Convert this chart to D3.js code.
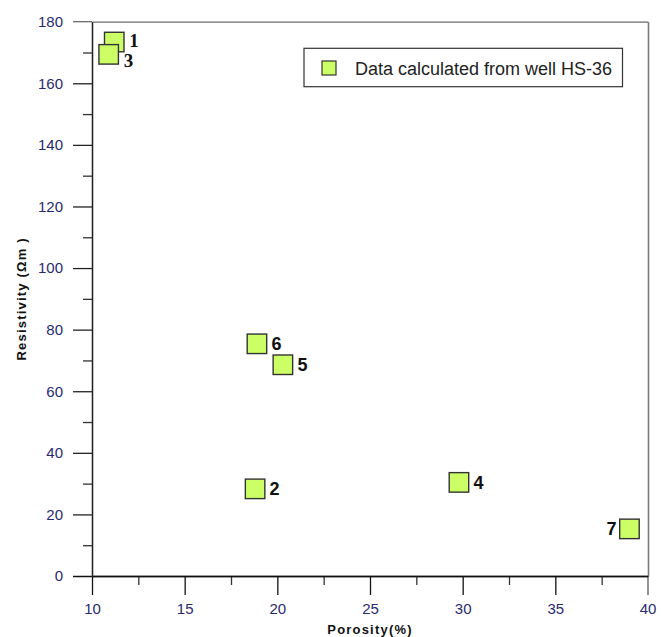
<!DOCTYPE html>
<html>
<head>
<meta charset="utf-8">
<script src="https://cdn.jsdelivr.net/npm/d3@7"></script>
<style>
  html, body { margin: 0; padding: 0; background: #fff; }
  svg { display: block; }
</style>
</head>
<body>
<svg id="chart" width="661" height="637"></svg>
<script>
// Samples computed from well HS-36
const sampleIds = [1, 2, 3, 4, 5, 6, 7];
const porosity = [11.2, 18.8, 10.9, 29.8, 20.3, 18.9, 39.0];      // %
const resistivity = [173.4, 28.3, 169.4, 30.4, 68.6, 75.4, 15.3];  // ohm-m

const xMajorTicks = [10, 15, 20, 25, 30, 35, 40];
const xMinorTicks = [12.5, 17.5, 22.5, 27.5, 32.5, 37.5];
const yMajorTicks = [0, 20, 40, 60, 80, 100, 120, 140, 160, 180];
const yMinorTicks = [10, 30, 50, 70, 90, 110, 130, 150, 170];

const legendLabel = "Data calculated from well HS-36";
const xTitle = "Porosity(%)";
const yTitle = "Resistivity (\u03A9m )";

const svg = d3.select("#chart");
const plotLeft = 92, plotRight = 648, plotTop = 21.7, plotBottom = 576;

const x = d3.scaleLinear().domain([10, 40]).range([plotLeft, plotRight]);
const y = d3.scaleLinear().domain([0, 180]).range([plotBottom, plotTop]);

const tickColor = "#2a2a6e";
const font = "Arial, 'Liberation Sans', sans-serif";

function styleAxis(g, lineColor) {
  g.select(".domain").attr("stroke", lineColor).attr("stroke-width", 1.3);
  g.selectAll(".tick line").attr("stroke", lineColor).attr("stroke-width", 1.3);
  g.selectAll(".tick text")
    .attr("fill", tickColor)
    .style("font-family", font)
    .style("font-size", "15px");
}

// frame: top and right sides in grey, carrying outward ticks
const topAxis = svg.append("g").attr("transform", `translate(0,${plotTop})`)
  .call(d3.axisTop(x).tickValues([]).tickSizeOuter(0));
topAxis.select(".domain").attr("stroke", "#6a6a6a").attr("stroke-width", 1.3);
svg.append("line").attr("x1", plotLeft - 19).attr("x2", plotLeft)
  .attr("y1", plotTop).attr("y2", plotTop).attr("stroke", "#6a6a6a").attr("stroke-width", 1.3);
const rightAxis = svg.append("g").attr("transform", `translate(${plotRight},0)`)
  .call(d3.axisRight(y).tickValues([]).tickSizeOuter(0));
rightAxis.select(".domain").attr("stroke", "#7a7a7a").attr("stroke-width", 1.6);
svg.append("line").attr("x1", plotRight).attr("x2", plotRight)
  .attr("y1", plotBottom).attr("y2", plotBottom + 19).attr("stroke", "#7a7a7a").attr("stroke-width", 1.6);

// x axis: major + minor ticks
const xMinor = svg.append("g").attr("transform", `translate(0,${plotBottom})`)
  .call(d3.axisBottom(x).tickValues(xMinorTicks).tickSize(9).tickFormat("").tickSizeOuter(0));
styleAxis(xMinor, "#333");
const xAxis = svg.append("g").attr("transform", `translate(0,${plotBottom})`)
  .call(d3.axisBottom(x).tickValues(xMajorTicks.filter(v => v < 40)).tickSize(19).tickPadding(8).tickSizeOuter(0));
styleAxis(xAxis, "#111");
xAxis.select(".domain").attr("d", `M${plotLeft - 19},0.5H${plotRight}`);
// label for 40 (its tick is part of the grey frame)
xAxis.append("text").attr("x", x(40)).attr("y", 19 + 8).attr("dy", "0.71em")
  .attr("text-anchor", "middle").attr("fill", tickColor)
  .style("font-family", font).style("font-size", "15px").text("40");

// y axis: major + minor ticks
const yMinor = svg.append("g").attr("transform", `translate(${plotLeft},0)`)
  .call(d3.axisLeft(y).tickValues(yMinorTicks).tickSize(9).tickFormat("").tickSizeOuter(0));
styleAxis(yMinor, "#333");
const yAxis = svg.append("g").attr("transform", `translate(${plotLeft},0)`)
  .call(d3.axisLeft(y).tickValues(yMajorTicks.filter(v => v > 0 && v < 180)).tickSize(19).tickPadding(10).tickSizeOuter(0));
styleAxis(yAxis, "#222");
[0, 180].forEach(v => {
  yAxis.append("text").attr("x", -29).attr("y", y(v)).attr("dy", "0.32em")
    .attr("text-anchor", "end").attr("fill", tickColor)
    .style("font-family", font).style("font-size", "15px").text(v);
});

// axis titles
svg.append("text")
  .attr("x", (plotLeft + plotRight) / 2).attr("y", 634)
  .attr("text-anchor", "middle")
  .style("font-family", font).style("font-size", "13px").style("font-weight", "bold")
  .style("letter-spacing", "1.2px").attr("fill", "#111")
  .text(xTitle);
svg.append("text")
  .attr("transform", `translate(26,${(plotTop + plotBottom) / 2}) rotate(-90)`)
  .attr("text-anchor", "middle")
  .style("font-family", font).style("font-size", "13px").style("font-weight", "bold")
  .style("letter-spacing", "1.2px").attr("fill", "#111")
  .text(yTitle);

// markers
const points = sampleIds.map((id, i) => ({ id, px: porosity[i], rv: resistivity[i] }));
const side = 19.5;
const fillColor = "#ccff66";

svg.append("g").selectAll("rect").data(points).join("rect")
  .attr("x", d => x(d.px) - side / 2)
  .attr("y", d => y(d.rv) - side / 2)
  .attr("width", side).attr("height", side)
  .attr("fill", fillColor).attr("stroke", "#333").attr("stroke-width", 1.4);

// sample number labels
const labelPlace = {
  1: { dx: 15, dy: 5, anchor: "start", serif: true },
  3: { dx: 15, dy: 13, anchor: "start", serif: true },
  7: { dx: -13, dy: 6.5, anchor: "end" }
};
svg.append("g").selectAll("text").data(points).join("text")
  .attr("x", d => x(d.px) + (labelPlace[d.id] ? labelPlace[d.id].dx : 14.5))
  .attr("y", d => y(d.rv) + (labelPlace[d.id] ? labelPlace[d.id].dy : 6.5))
  .attr("text-anchor", d => labelPlace[d.id] ? labelPlace[d.id].anchor : "start")
  .style("font-family", d => labelPlace[d.id] && labelPlace[d.id].serif
    ? "'Times New Roman', 'Liberation Serif', serif" : font)
  .style("font-size", d => labelPlace[d.id] && labelPlace[d.id].serif ? "19px" : "18px")
  .style("font-weight", "bold")
  .attr("fill", "#111")
  .text(d => d.id);

// legend
const legend = svg.append("g");
legend.append("rect")
  .attr("x", 304).attr("y", 48.3).attr("width", 318.5).attr("height", 38.4)
  .attr("fill", "#fff").attr("stroke", "#333").attr("stroke-width", 1.2);
legend.append("rect")
  .attr("x", 322).attr("y", 61).attr("width", 14).attr("height", 14)
  .attr("fill", fillColor).attr("stroke", "#333").attr("stroke-width", 1.2);
legend.append("text")
  .attr("x", 355).attr("y", 74.5)
  .style("font-family", font).style("font-size", "18px")
  .attr("fill", "#222")
  .text(legendLabel);
</script>
</body>
</html>
